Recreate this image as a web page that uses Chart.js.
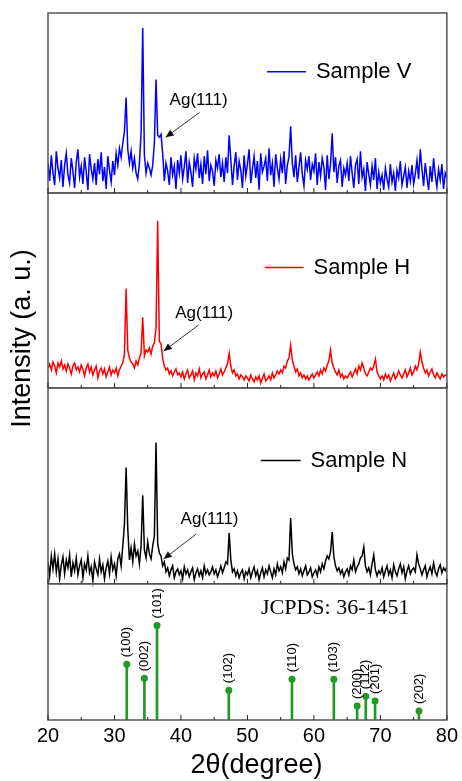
<!DOCTYPE html>
<html>
<head>
<meta charset="utf-8">
<title>XRD patterns</title>
<script src="https://cdn.jsdelivr.net/npm/chart.js@4/dist/chart.umd.min.js"></script>
<style>
  html, body { margin: 0; padding: 0; background: #fff; }
  canvas { display: block; }
</style>
</head>
<body>
<canvas id="xrdChart" width="462" height="781"></canvas>
<script>
const START = 20;
const STEP = 0.25;

// intensities (arbitrary units, per panel)
const sampleV = [
  30, 12, 38, 20, 8, 42, 25, 15, 33, 6, 28, 40, 18, 10, 35, 22, 5, 31, 44, 16,
  27, 9, 36, 21, 3, 39, 24, 14, 30, 8, 34, 19, 41, 12, 26, 4, 37, 23, 11, 32,
  18, 40, 28, 45, 36, 50, 62, 96, 44, 30, 42, 25, 35, 20, 14, 30, 60, 166, 38, 20,
  30, 25, 18, 28, 50, 114, 58, 56, 59, 40, 12, 30, 22, 8, 36, 18, 27, 4, 33, 20,
  38, 14, 26, 42, 10, 31, 21, 6, 35, 24, 40, 15, 29, 9, 37, 19, 43, 12, 28, 22,
  7, 33, 25, 39, 16, 30, 11, 36, 20, 58, 34, 8, 27, 41, 13, 32, 23, 5, 38, 17,
  29, 44, 10, 24, 37, 15, 32, 3, 40, 21, 27, 35, 12, 45, 18, 30, 6, 39, 25, 14,
  34, 20, 42, 9, 28, 36, 67, 30, 16, 38, 11, 26, 41, 19, 7, 33, 24, 37, 13, 29,
  22, 40, 8, 31, 17, 35, 26, 3, 38, 14, 29, 60, 21, 36, 10, 27, 33, 6, 25, 18,
  30, 12, 37, 20, 5, 28, 34, 9, 42, 16, 24, 2, 31, 19, 8, 27, 13, 35, 4, 21,
  10, 18, 3, 25, 14, 6, 29, 11, 20, 2, 23, 15, 32, 8, 17, 26, 5, 22, 12, 28,
  9, 19, 33, 14, 44, 24, 7, 30, 16, 3, 27, 11, 35, 18, 6, 24, 13, 29, 4, 20,
  15
];

const sampleH = [
  20, 24, 18, 26, 22, 15, 25, 21, 27, 19, 23, 17, 24, 20, 14, 22, 25, 18, 21, 16,
  23, 19, 12, 20, 24, 16, 21, 13, 18, 22, 10, 17, 20, 14, 19, 11, 16, 21, 13, 18,
  15, 20, 12, 18, 22, 25, 34, 100, 38, 30, 26, 24, 20, 27, 23, 30, 35, 71, 32, 38,
  36, 40, 34, 42, 45, 60, 168, 47, 44, 30, 22, 18, 20, 14, 17, 12, 16, 19, 13, 15,
  11, 16, 9, 14, 18, 10, 13, 17, 8, 15, 12, 19, 10, 14, 16, 9, 13, 18, 11, 15,
  12, 17, 10, 14, 19, 13, 16, 20, 24, 35, 22, 15, 18, 12, 14, 9, 13, 11, 8, 12,
  10, 7, 13, 9, 6, 11, 8, 12, 5, 10, 14, 7, 9, 12, 8, 15, 10, 13, 17, 14,
  18, 15, 22, 20, 27, 30, 43, 28, 22, 16, 19, 12, 15, 10, 13, 9, 12, 8, 11, 14,
  10, 13, 16, 12, 18, 14, 20, 17, 23, 27, 38, 25, 20, 16, 13, 18, 11, 14, 9, 12,
  10, 13, 16, 11, 15, 19, 14, 22, 18, 25, 20, 14, 12, 16, 20, 18, 22, 29, 16, 12,
  9, 12, 8, 14, 10, 13, 7, 11, 15, 9, 12, 17, 13, 10, 14, 18, 11, 15, 20, 13,
  16, 22, 18, 24, 36, 26, 20, 15, 18, 12, 16, 19, 13, 10, 15, 12, 9, 14, 11, 13,
  12
];

const sampleN = [
  22, 8, 28, 15, 30, 12, 25, 5, 19, 27, 10, 24, 16, 29, 7, 21, 13, 26, 9, 18,
  24, 6, 20, 14, 28, 11, 17, 3, 22, 15, 9, 25, 12, 19, 5, 16, 23, 10, 27, 14,
  20, 8, 25, 30, 18, 38, 60, 117, 55, 24, 36, 22, 40, 28, 33, 20, 38, 89, 34, 26,
  42, 30, 25, 38, 48, 142, 40, 31, 28, 18, 22, 12, 16, 8, 14, 18, 6, 12, 15, 9,
  13, 5, 17, 10, 14, 7, 12, 16, 4, 11, 15, 8, 13, 6, 18, 10, 14, 9, 12, 17,
  10, 14, 7, 12, 18, 11, 16, 22, 20, 51, 24, 12, 15, 8, 13, 6, 11, 14, 5, 12,
  9, 15, 6, 12, 17, 8, 13, 4, 11, 16, 7, 14, 10, 18, 12, 6, 15, 9, 20, 13,
  17, 11, 22, 15, 26, 24, 66, 30, 20, 14, 17, 10, 15, 8, 13, 18, 9, 12, 16, 7,
  11, 14, 8, 17, 12, 20, 15, 23, 28, 25, 32, 52, 27, 18, 13, 16, 10, 14, 7, 12,
  15, 9, 18, 14, 24, 12, 17, 20, 26, 28, 37, 18, 12, 16, 9, 20, 29, 14, 8, 13,
  10, 16, 7, 13, 18, 9, 14, 6, 19, 12, 8, 15, 20, 11, 17, 5, 13, 18, 10, 14,
  16, 12, 29, 20, 15, 9, 14, 18, 7, 13, 17, 10, 21, 12, 8, 15, 19, 11, 16, 13,
  17
];

// JCPDS 36-1451 reference lines
const jcpdsPos = [31.85, 34.5, 36.4, 47.2, 56.7, 63.0, 66.5, 67.8, 69.2, 75.8];
const jcpdsInt = [56, 42, 95, 30, 41, 41, 14, 24, 19, 9];
const jcpdsHkl = ["(100)", "(002)", "(101)", "(102)", "(110)", "(103)", "(200)", "(112)", "(201)", "(202)"];

const xTicks = [20, 30, 40, 50, 60, 70, 80];

// panels stacked on one y scale, bottom to top
const panels = [
  { base: 0,   top: 137 },
  { base: 137, top: 334 },
  { base: 334, top: 530 },
  { base: 530, top: 711 }
];

const SANS = "'Liberation Sans', Arial, sans-serif";
const SERIF = "'Liberation Serif', 'Times New Roman', serif";
const GREEN = "#229a22";

const samples = [
  { label: "Sample V", data: sampleV, base: 530, color: "#0000ff",
    legend: { x1: 52.95, x2: 58.8, y: 652 },
    ag: { tx: 42.65, ty: 623, x1: 42.8, y1: 611, x2: 37.7, y2: 586 } },
  { label: "Sample H", data: sampleH, base: 334, color: "#ff0000",
    legend: { x1: 52.6, x2: 58.45, y: 455 },
    ag: { tx: 43.5, ty: 409, x1: 42.6, y1: 397, x2: 37.4, y2: 371 } },
  { label: "Sample N", data: sampleN, base: 137, color: "#000000",
    legend: { x1: 52.0, x2: 58.0, y: 261 },
    ag: { tx: 44.3, ty: 202, x1: 42.3, y1: 187, x2: 37.4, y2: 162 } }
];

function toPoints(arr, base) {
  return arr.map((v, i) => ({ x: START + i * STEP, y: base + v }));
}

const overlay = {
  id: "overlay",
  beforeDraw(chart) {
    const ctx = chart.ctx;
    ctx.save();
    ctx.fillStyle = "#fff";
    ctx.fillRect(0, 0, chart.width, chart.height);
    ctx.restore();
  },
  afterDatasetsDraw(chart) {
    const { ctx, chartArea: a, scales: { x, y } } = chart;
    ctx.save();

    // panel frames with inward ticks
    panels.forEach(p => {
      const top = y.getPixelForValue(p.top);
      const bot = y.getPixelForValue(p.base);
      ctx.strokeStyle = "#555";
      ctx.lineWidth = 1.5;
      ctx.strokeRect(a.left, top, a.right - a.left, bot - top);
      ctx.beginPath();
      for (let v = 20; v <= 80; v += 5) {
        const px = x.getPixelForValue(v);
        const len = v % 10 === 0 ? 5 : 3;
        ctx.moveTo(px, bot);
        ctx.lineTo(px, bot - len);
      }
      ctx.strokeStyle = "#222";
      ctx.lineWidth = 1;
      ctx.stroke();
    });

    // legends and Ag(111) notes
    samples.forEach(s => {
      const lx1 = x.getPixelForValue(s.legend.x1);
      const lx2 = x.getPixelForValue(s.legend.x2);
      const ly = y.getPixelForValue(s.legend.y);
      ctx.strokeStyle = s.color;
      ctx.lineWidth = 1.5;
      ctx.beginPath();
      ctx.moveTo(lx1, ly);
      ctx.lineTo(lx2, ly);
      ctx.stroke();
      ctx.fillStyle = "#000";
      ctx.font = "22px " + SANS;
      ctx.textAlign = "left";
      ctx.textBaseline = "middle";
      ctx.fillText(s.label, lx2 + 10, ly);

      const g = s.ag;
      ctx.font = "17px " + SANS;
      ctx.textAlign = "center";
      ctx.fillText("Ag(111)", x.getPixelForValue(g.tx), y.getPixelForValue(g.ty));
      const ax1 = x.getPixelForValue(g.x1), ay1 = y.getPixelForValue(g.y1);
      const ax2 = x.getPixelForValue(g.x2), ay2 = y.getPixelForValue(g.y2);
      ctx.strokeStyle = "#333";
      ctx.lineWidth = 1;
      ctx.beginPath();
      ctx.moveTo(ax1, ay1);
      ctx.lineTo(ax2, ay2);
      ctx.stroke();
      const ang = Math.atan2(ay2 - ay1, ax2 - ax1);
      ctx.fillStyle = "#111";
      ctx.beginPath();
      ctx.moveTo(ax2, ay2);
      ctx.lineTo(ax2 - 8 * Math.cos(ang) + 3.5 * Math.sin(ang), ay2 - 8 * Math.sin(ang) - 3.5 * Math.cos(ang));
      ctx.lineTo(ax2 - 8 * Math.cos(ang) - 3.5 * Math.sin(ang), ay2 - 8 * Math.sin(ang) + 3.5 * Math.cos(ang));
      ctx.closePath();
      ctx.fill();
    });

    // reference panel text
    ctx.fillStyle = "#000";
    ctx.font = "22px " + SERIF;
    ctx.textAlign = "left";
    ctx.textBaseline = "middle";
    ctx.fillText("JCPDS: 36-1451", x.getPixelForValue(52.03), y.getPixelForValue(112.5));

    ctx.font = "13px " + SANS;
    jcpdsPos.forEach((pos, i) => {
      ctx.save();
      ctx.translate(x.getPixelForValue(pos), y.getPixelForValue(jcpdsInt[i]) - 7);
      ctx.rotate(-Math.PI / 2);
      ctx.textAlign = "left";
      ctx.textBaseline = "middle";
      ctx.fillText(jcpdsHkl[i], 0, 0);
      ctx.restore();
    });

    // axis titles
    ctx.font = "27px " + SANS;
    ctx.textAlign = "center";
    ctx.textBaseline = "alphabetic";
    ctx.fillText("2θ(degree)", 256.5, 773);
    ctx.save();
    ctx.translate(22.5, 338.5);
    ctx.rotate(-Math.PI / 2);
    ctx.textBaseline = "middle";
    ctx.fillText("Intensity (a. u.)", 0, 0);
    ctx.restore();

    ctx.restore();
  }
};

const datasets = samples.map(s => ({
  type: "line",
  label: s.label,
  data: toPoints(s.data, s.base),
  borderColor: s.color,
  borderWidth: 1.5,
  pointRadius: 0,
  tension: 0,
  order: 2
}));

datasets.push({
  type: "line",
  label: "JCPDS markers",
  data: jcpdsPos.map((x, i) => ({ x: x, y: jcpdsInt[i] })),
  showLine: false,
  pointRadius: 3.5,
  pointBackgroundColor: GREEN,
  pointBorderWidth: 0,
  order: 0
});

datasets.push({
  type: "bar",
  label: "JCPDS 36-1451",
  data: jcpdsPos.map((x, i) => ({ x: x, y: jcpdsInt[i] })),
  backgroundColor: GREEN,
  barThickness: 2,
  order: 1
});

new Chart(document.getElementById("xrdChart"), {
  type: "line",
  data: { datasets: datasets },
  options: {
    responsive: false,
    animation: false,
    layout: { padding: { left: 48, right: 13, top: 13, bottom: 29 } },
    plugins: { legend: { display: false }, tooltip: { enabled: false } },
    scales: {
      x: {
        type: "linear",
        min: 20,
        max: 80,
        offset: false,
        afterBuildTicks: axis => { axis.ticks = xTicks.map(v => ({ value: v })); },
        grid: { display: false, drawTicks: false },
        border: { display: false },
        ticks: { color: "#000", padding: 4, font: { family: SANS, size: 20 } }
      },
      y: {
        type: "linear",
        min: 0,
        max: 711,
        display: false
      }
    }
  },
  plugins: [overlay]
});
</script>
</body>
</html>
